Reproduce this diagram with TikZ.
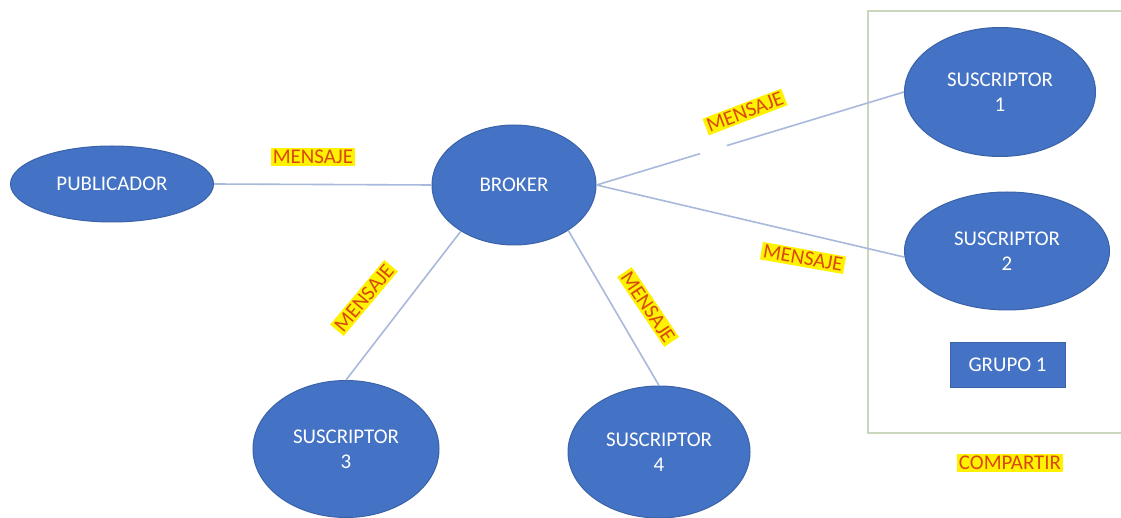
\documentclass[tikz,border=0pt]{standalone}
\usepackage{fontspec}
\setmainfont{Carlito}
\usetikzlibrary{shapes.geometric}
\definecolor{fillblue}{HTML}{4472C4}
\definecolor{edgeblue}{HTML}{3A62A8}
\definecolor{linkblue}{HTML}{A9B9DC}
\definecolor{lbltext}{HTML}{D9480F}
\definecolor{grpline}{HTML}{C9D8BC}
\begin{document}
\begin{tikzpicture}[x=1bp,y=-1bp,
  ent/.style={ellipse, draw=edgeblue, line width=1bp, fill=fillblue, text=white,
    font=\fontsize{21}{25}\selectfont, align=center, inner sep=0pt},
  lbl/.style={fill=yellow, text=lbltext, font=\fontsize{21}{24}\selectfont, inner sep=2bp},
  link/.style={draw=linkblue, line width=1.6bp}]
\useasboundingbox (0,0) rectangle (1121,518);
\fill[white] (0,0) rectangle (1121,518);
% group frame
\draw[grpline, line width=1.2bp] (1130,11) -- (868,11) -- (868,433) -- (1130,433);
% nodes
\node[ent, minimum width=203bp, minimum height=76bp] (pub) at (112,184) {PUBLICADOR};
\node[ent, minimum width=164bp, minimum height=120bp] (broker) at (514,185) {BROKER};
\node[ent, minimum width=191bp, minimum height=129bp] (s1) at (1000,92) {SUSCRIPTOR\\1};
\node[ent, minimum width=205bp, minimum height=118bp] (s2) at (1007,251) {SUSCRIPTOR\\2};
\node[ent, minimum width=186bp, minimum height=137bp] (s3) at (346,449) {SUSCRIPTOR\\3};
\node[ent, minimum width=182bp, minimum height=132bp] (s4) at (659,452) {SUSCRIPTOR\\4};
\node[rectangle, draw=edgeblue, line width=1bp, fill=fillblue, text=white,
  font=\fontsize{21}{25}\selectfont, minimum width=115bp, minimum height=44bp]
  (grupo) at (1007.5,365) {GRUPO 1};
% connectors
\draw[link] (pub.east) -- (broker.west);
\path (broker.east) -- (s1.west) coordinate[pos=0.337] (g1) coordinate[pos=0.424] (g2);
\draw[link] (broker.east) -- (g1);
\draw[link] (g2) -- (s1.west);
\draw[link] (broker.east) -- ([yshift=-6bp]s2.west);
\draw[link] (broker.221) -- (s3.north);
\draw[link] (broker.-40) -- (s4.north);
% labels
\node[lbl] (m1) at (313,157) {MENSAJE};
\node[lbl, rotate=21] (m2) at (745,112) {MENSAJE};
\node[lbl, rotate=-10] (m3) at (803,258) {MENSAJE};
\node[lbl, rotate=50] (m4) at (364,298) {MENSAJE};
\node[lbl, rotate=-56] (m5) at (648,307) {MENSAJE};
\node[lbl] (comp) at (1010,463) {COMPARTIR};
\end{tikzpicture}
\end{document}
